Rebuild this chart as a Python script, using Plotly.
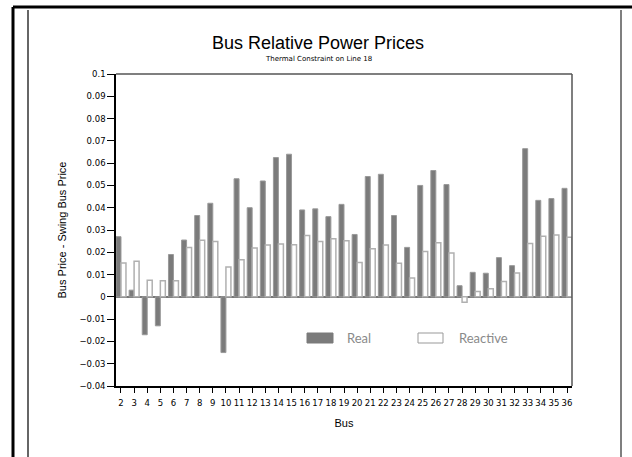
import plotly.graph_objects as go

# ---- data ----
buses = list(range(2, 37))
real = [0.027, 0.003, -0.017, -0.013, 0.019, 0.0255, 0.0365, 0.042, -0.025, 0.053,
        0.040, 0.052, 0.0625, 0.064, 0.039, 0.0395, 0.036, 0.0415, 0.028, 0.054,
        0.055, 0.0365, 0.0222, 0.050, 0.0567, 0.0504, 0.005, 0.011, 0.0106, 0.0176,
        0.014, 0.0665, 0.0433, 0.0441, 0.0487]
reactive = [0.0152, 0.016, 0.0075, 0.0072, 0.0072, 0.0221, 0.0254, 0.0248, 0.0134, 0.0167,
            0.0219, 0.0233, 0.0237, 0.0234, 0.0275, 0.0248, 0.0261, 0.0252, 0.0154, 0.0216,
            0.0233, 0.0151, 0.0085, 0.0203, 0.0243, 0.0197, -0.0024, 0.0024, 0.0036, 0.0069,
            0.0107, 0.0239, 0.0272, 0.0278, 0.0267]
y_tick_vals = [0.1, 0.09, 0.08, 0.07, 0.06, 0.05, 0.04, 0.03, 0.02, 0.01, 0,
               -0.01, -0.02, -0.03, -0.04]
y_tick_text = ["0.1", "0.09", "0.08", "0.07", "0.06", "0.05", "0.04", "0.03", "0.02",
               "0.01", "0", "\u22120.01", "\u22120.02", "\u22120.03", "\u22120.04"]
series_names = ["Real", "Reactive"]

# ---- layout geometry (pixels) ----
W, H = 632, 457
L, R, T, B = 116, 572, 74, 386


def px(x):
    return (x - L) / (R - L)


def py(y):
    return (B - y) / (B - T)


fig = go.Figure()
fig.add_trace(go.Bar(x=buses, y=real, name=series_names[0],
                     marker=dict(color="#7b7b7b", line=dict(color="#9a9a9a", width=1)),
                     showlegend=False))
fig.add_trace(go.Bar(x=buses, y=reactive, name=series_names[1],
                     marker=dict(color="white", line=dict(color="#b0b0b0", width=1.5)),
                     showlegend=False))

shapes = []
# outer frame
shapes.append(dict(type="line", xref="paper", yref="paper", x0=px(13), x1=px(640),
                   y0=py(7), y1=py(7), line=dict(color="black", width=3)))
shapes.append(dict(type="line", xref="paper", yref="paper", x0=px(13), x1=px(13),
                   y0=py(7), y1=py(470), line=dict(color="black", width=3)))
shapes.append(dict(type="line", xref="paper", yref="paper", x0=px(28), x1=px(28),
                   y0=py(10), y1=py(470), line=dict(color="#333333", width=1.5)))
shapes.append(dict(type="line", xref="paper", yref="paper", x0=px(621), x1=px(621),
                   y0=py(10), y1=py(470), line=dict(color="#555555", width=1.5)))
# plot frame top/right
shapes.append(dict(type="line", xref="paper", yref="paper", x0=0, x1=1, y0=1, y1=1,
                   line=dict(color="#555555", width=1.5)))
shapes.append(dict(type="line", xref="paper", yref="paper", x0=1, x1=1, y0=0, y1=1,
                   line=dict(color="#555555", width=1.5)))
# legend swatches
shapes.append(dict(type="rect", xref="paper", yref="paper", x0=px(307), x1=px(333),
                   y0=py(343), y1=py(333), fillcolor="#7b7b7b",
                   line=dict(color="#7b7b7b", width=1)))
shapes.append(dict(type="rect", xref="paper", yref="paper", x0=px(418), x1=px(443),
                   y0=py(343), y1=py(333), fillcolor="white",
                   line=dict(color="#999999", width=1)))

annotations = [
    dict(text=series_names[0], xref="paper", yref="paper", x=px(345), y=py(338),
         xanchor="left", yanchor="middle", showarrow=False,
         font=dict(family="Lato, sans-serif", size=13, color="#8a8a8a")),
    dict(text=series_names[1], xref="paper", yref="paper", x=px(457), y=py(338),
         xanchor="left", yanchor="middle", showarrow=False,
         font=dict(family="Lato, sans-serif", size=13, color="#8a8a8a")),
    dict(text="Thermal Constraint on Line 18", xref="paper", yref="paper",
         x=px(318), y=py(59), xanchor="center", yanchor="middle", showarrow=False,
         font=dict(family="DejaVu Sans, sans-serif", size=7, color="black")),
]

fig.update_layout(
    width=W, height=H,
    margin=dict(l=L, r=W - R, t=T, b=H - B),
    paper_bgcolor="white", plot_bgcolor="white",
    barmode="group", bargap=0.24, bargroupgap=0,
    title=dict(text="Bus Relative Power Prices", x=318 / W, xref="container",
               y=1 - 43 / H, yref="container", xanchor="center", yanchor="middle",
               font=dict(family="Liberation Sans, Arial, sans-serif", size=18, color="black")),
    shapes=shapes,
    annotations=annotations,
    xaxis=dict(range=[1.62, 36.38], tickmode="array", tickvals=buses,
               ticktext=[str(b) for b in buses],
               ticks="outside", ticklen=5, tickwidth=1, tickcolor="black",
               ticklabelstandoff=3,
               showline=True, linecolor="black", linewidth=1.5,
               showgrid=False, zeroline=False,
               tickfont=dict(family="DejaVu Sans, sans-serif", size=8.5, color="black"),
               title=dict(text="Bus", standoff=12,
                          font=dict(family="Liberation Sans, Arial, sans-serif", size=11,
                                    color="black"))),
    yaxis=dict(range=[-0.04, 0.1], tickmode="array", tickvals=y_tick_vals,
               ticktext=y_tick_text,
               ticks="outside", ticklen=7, tickwidth=1, tickcolor="black",
               showline=True, linecolor="black", linewidth=1.5,
               showgrid=False, zeroline=True, zerolinecolor="#777777", zerolinewidth=2,
               tickfont=dict(family="DejaVu Sans, sans-serif", size=8.5, color="black"),
               title=dict(text="Bus Price - Swing Bus Price", standoff=11,
                          font=dict(family="Liberation Sans, Arial, sans-serif", size=11,
                                    color="black"))),
)

fig.write_html(
    "out.html",
    config={"displayModeBar": False},
    post_script="document.body.style.margin='0';document.body.style.overflow='hidden';",
)
